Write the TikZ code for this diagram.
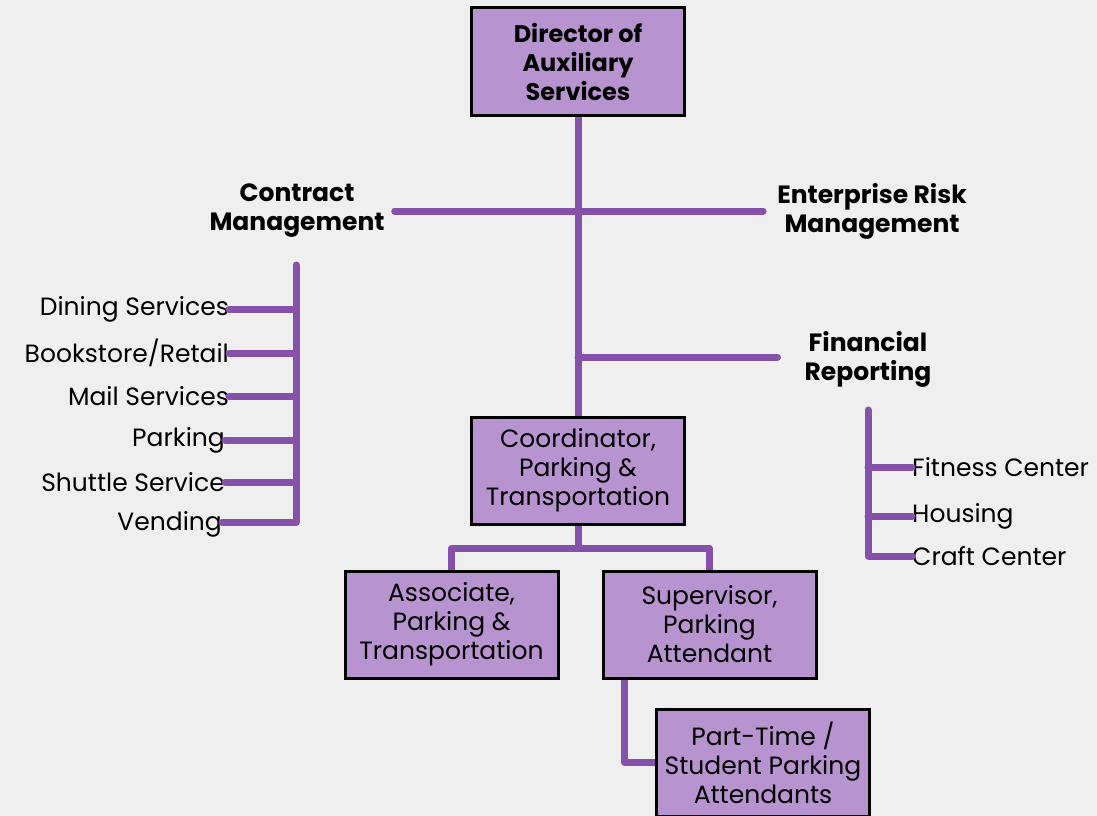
\documentclass[tikz,border=0pt]{standalone}
\usepackage{fontspec}
\setmainfont{Poppins}
\definecolor{bg}{HTML}{EFEFEF}
\definecolor{boxfill}{HTML}{B794CF}
\definecolor{lnk}{HTML}{8651A8}
\begin{document}
\begin{tikzpicture}[x=1pt,y=-1pt,
  orgbox/.style={draw=black,line width=3pt,fill=boxfill,minimum width=213pt,minimum height=107pt,inner sep=0pt,align=center,font=\fontsize{25}{29}\selectfont},
  topbox/.style={orgbox,font=\bfseries\fontsize{24}{29}\selectfont},
  blabel/.style={align=center,inner sep=0pt,font=\bfseries\fontsize{25}{29}\selectfont},
  item/.style={inner sep=0pt,font=\fontsize{25}{29}\selectfont},
  conn/.style={draw=lnk,line width=7pt,line cap=round,line join=round}]
\fill[bg] (0,0) rectangle (1097,816);
\useasboundingbox (0,0) rectangle (1097,816);
\coordinate (trunkF) at (578,357);
\coordinate (lt) at (296,265);
\coordinate (lb) at (296,522);
\coordinate (rt) at (868,410);
\coordinate (rb) at (868,556);
\coordinate (split) at (578,548);

\node[topbox] (dir) at (578,61.5) {Director of\\Auxiliary\\Services};
\node[orgbox] (coord) at (578,470.5) {Coordinator,\\Parking \&\\Transportation};
\node[orgbox] (assoc) at (451.5,624.5) {Associate,\\Parking \&\\Transportation};
\node[orgbox] (sup) at (709.5,624.5) {Supervisor,\\Parking\\Attendant};
\node[orgbox] (pt) at (763,762.5) {Part-Time /\\Student Parking\\Attendants};

\node[blabel] (cm) at (297,211) {Contract\\Management};
\node[blabel] (erm) at (872,211) {Enterprise Risk\\Management};
\node[blabel] (fr) at (868,359) {Financial\\Reporting};

\node[item,anchor=east] (i1) at (229,309) {Dining Services};
\node[item,anchor=east] (i2) at (229,353) {Bookstore/Retail};
\node[item,anchor=east] (i3) at (229,396) {Mail Services};
\node[item,anchor=east] (i4) at (225,440) {Parking};
\node[item,anchor=east] (i5) at (225,482) {Shuttle Service};
\node[item,anchor=east] (i6) at (222,524) {Vending};

\node[item,anchor=west] (r1) at (912,467) {Fitness Center};
\node[item,anchor=west] (r2) at (912,516) {Housing};
\node[item,anchor=west] (r3) at (912,556) {Craft Center};

% connectors
\path[conn] (dir.south) -- (coord.north);
\path[conn] ([xshift=10pt]cm.east) -- ([xshift=-14pt]erm.west);
\path[conn] (trunkF) -- ([xshift=-27pt]fr.west |- trunkF);
\path[conn] (lt) -- (lb) -- (lb -| i6.east);
\foreach \n in {i1,i2,i3,i4,i5} \path[conn] (\n.east) -- (\n.east -| lt);
\path[conn] (rt) -- (rb) -- (rb -| r3.west);
\foreach \n in {r1,r2} \path[conn] (\n.west) -- (\n.west -| rt);
\path[conn] (coord.south) -- (split);
\path[conn] (assoc.north) -- (assoc.north |- split) -- (sup.north |- split) -- (sup.north);
\path[conn] ([xshift=-85pt]sup.south) -- ([xshift=-85pt]sup.south |- pt.west) -- (pt.west);
% boxes on top of connectors
\node[topbox] at (dir) {Director of\\Auxiliary\\Services};
\node[orgbox] at (coord) {Coordinator,\\Parking \&\\Transportation};
\node[orgbox] at (assoc) {Associate,\\Parking \&\\Transportation};
\node[orgbox] at (sup) {Supervisor,\\Parking\\Attendant};
\node[orgbox] at (pt) {Part-Time /\\Student Parking\\Attendants};
\end{tikzpicture}
\end{document}
